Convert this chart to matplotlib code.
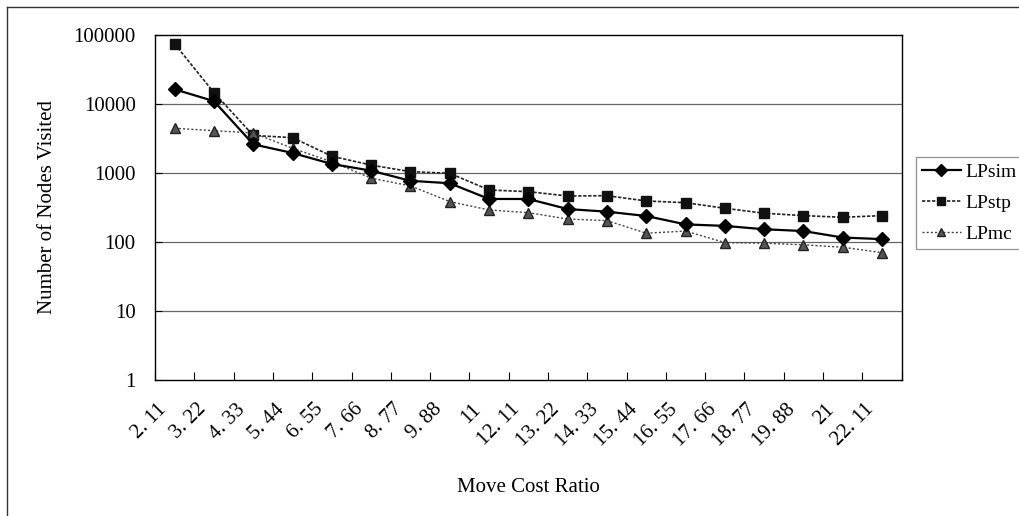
import numpy as np
import matplotlib
matplotlib.use("Agg")
import matplotlib.pyplot as plt
import matplotlib.transforms as mtransforms
from matplotlib.lines import Line2D

# values
ratio_labels = ["2. 11", "3. 22", "4. 33", "5. 44", "6. 55", "7. 66", "8. 77", "9. 88", "11",
                "12. 11", "13. 22", "14. 33", "15. 44", "16. 55", "17. 66", "18. 77", "19. 88",
                "21", "22. 11"]
lp_sim = [16300, 11000, 2600, 1950, 1350, 1080, 770, 710, 420, 420, 300, 275, 238, 180, 171,
          153, 144, 116, 110]
lp_stp = [74000, 14600, 3500, 3250, 1750, 1300, 1045, 990, 567, 536, 464, 469, 393, 371, 308,
          261, 241, 228, 241]
lp_mc = [4450, 4100, 3800, 2280, 1450, 840, 650, 385, 291, 266, 215, 204, 134, 144, 98, 96,
         91, 84, 70]

plt.rcParams['font.family'] = ['Liberation Serif', 'DejaVu Serif']
plt.rcParams['font.size'] = 15

fig = plt.figure(figsize=(10.2, 5.16), dpi=100)
ax = fig.add_axes([0.152, 0.2636, 0.732, 0.6686])

x = np.arange(len(ratio_labels))
ax.plot(x, lp_sim, color='black', lw=1.6, ls='-', marker='D', ms=7,
        mfc='black', mec='black', label='LPsim', zorder=4)
ax.plot(x, lp_stp, color='#222222', lw=1.2, ls=(0, (2, 1)), marker='s', ms=7,
        mfc='#111111', mec='#111111', label='LPstp', zorder=3)
ax.plot(x, lp_mc, color='#444444', lw=1.0, ls=(0, (1.5, 1.5)), marker='^', ms=7,
        mfc='#555555', mec='#222222', label='LPmc', zorder=3)

ax.set_yscale('log')
ax.set_ylim(1, 100000)
ax.set_yticks([1, 10, 100, 1000, 10000, 100000])
ax.set_yticklabels(['1', '10', '100', '1000', '10000', '100000'])
ax.yaxis.set_minor_locator(matplotlib.ticker.NullLocator())
ax.set_xlim(-0.5, len(ratio_labels) - 0.5)
ax.set_xticks(np.arange(len(ratio_labels) + 1) - 0.5, minor=False)
ax.set_xticklabels([])
ax.set_xticks(x, minor=True)
ax.set_xticklabels(ratio_labels, minor=True, rotation=45, ha='right',
                   rotation_mode='anchor', va='center')
ax.tick_params(axis='x', which='major', direction='in', length=6, width=0.8)
ax.tick_params(axis='x', which='minor', length=0, pad=12)
ax.tick_params(axis='y', direction='in', length=5, width=0.8, pad=14)

# nudge the slanted labels so their upper ends sit just left of each category
shift = mtransforms.ScaledTranslation(-11 / 100, -10 / 100, fig.dpi_scale_trans)
for lbl in ax.get_xticklabels(minor=True):
    lbl.set_transform(lbl.get_transform() + shift)

for v in [10, 100, 1000, 10000]:
    ax.axhline(v, color='#666666', lw=0.9, zorder=1)

for s in ax.spines.values():
    s.set_color('black')
    s.set_linewidth(1.0)

ax.set_ylabel('Number of Nodes Visited', labelpad=12)
ax.set_xlabel('Move Cost Ratio', labelpad=20)

leg = ax.legend(loc='upper left', bbox_to_anchor=(1.019, 0.646), frameon=True,
                fancybox=False, edgecolor='#777777', handlelength=2.0, fontsize=14,
                handletextpad=0.25, borderpad=0.3, labelspacing=0.7, borderaxespad=0,
                markerscale=0.85)
leg.get_frame().set_linewidth(0.9)

# outer chart border (top and left are visible in the reference)
fig.add_artist(Line2D([7 / 1020, 1.0], [1 - 7 / 516, 1 - 7 / 516], color='#333333', lw=1.0))
fig.add_artist(Line2D([7 / 1020, 7 / 1020], [0.0, 1 - 7 / 516], color='#333333', lw=1.0))

fig.savefig('out.png', dpi=100)
